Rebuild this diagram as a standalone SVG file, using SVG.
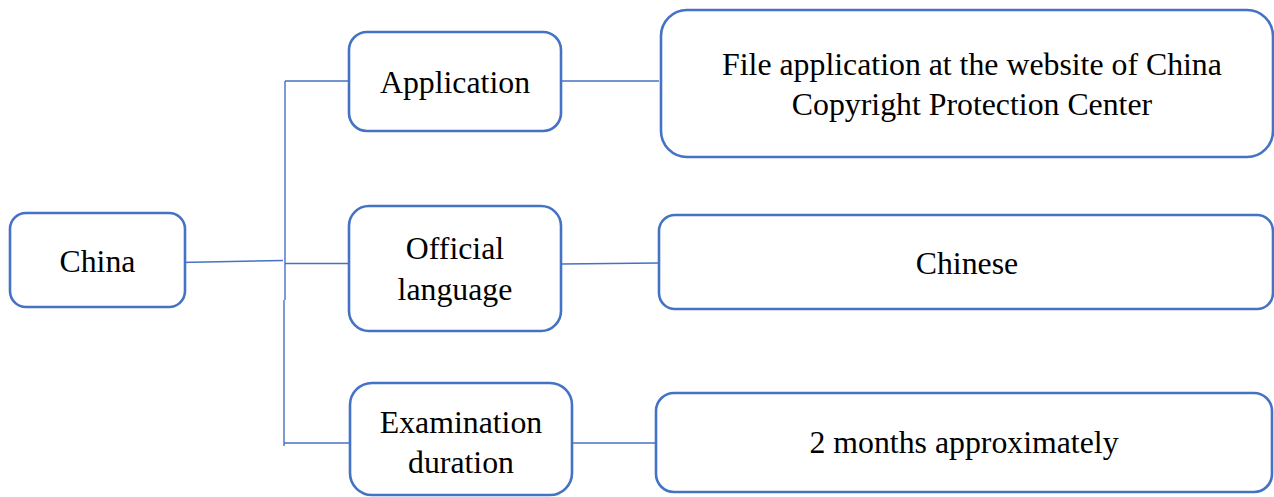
<svg xmlns="http://www.w3.org/2000/svg" width="1274" height="497" viewBox="0 0 1274 497">
  <style>
    .box { fill: #ffffff; stroke: #4472C4; stroke-width: 2.6; }
    .link { fill: none; stroke: #4472C4; stroke-width: 1.4; }
    .label { font-family: 'Liberation Serif', 'Times New Roman', serif; font-size: 31.8px; fill: #000000; text-anchor: middle; }
  </style>
  <rect x="0" y="0" width="1274" height="497" fill="#ffffff"/>

  <!-- connectors -->
  <g id="connectors">
    <path class="link" d="M180 262.5 L283 260.5"/>
    <path class="link" d="M285 81 V300"/>
    <path class="link" d="M284 300 V446"/>
    <path class="link" d="M285 81 H349"/>
    <path class="link" d="M285 263.5 H349"/>
    <path class="link" d="M284 443 H349"/>
    <path class="link" d="M561 81 H659"/>
    <path class="link" d="M561 264 L659 263"/>
    <path class="link" d="M568 443 H656"/>
  </g>

  <g id="china">
    <rect class="box" x="10" y="213" width="175" height="94" rx="16"/>
    <text class="label" x="97.5" y="272">China</text>
  </g>

  <g id="application">
    <rect class="box" x="349" y="32" width="212" height="99" rx="18"/>
    <text class="label" x="455" y="93">Application</text>
  </g>

  <g id="official-language">
    <rect class="box" x="349" y="206" width="212" height="125" rx="20"/>
    <text class="label" x="455" y="259">Official</text>
    <text class="label" x="455" y="300">language</text>
  </g>

  <g id="examination-duration">
    <rect class="box" x="350" y="383" width="222" height="112" rx="22"/>
    <text class="label" x="461" y="433">Examination</text>
    <text class="label" x="461" y="473">duration</text>
  </g>

  <g id="application-detail">
    <rect class="box" x="661" y="10" width="612" height="147" rx="26"/>
    <text class="label" x="972" y="75">File application at the website of China</text>
    <text class="label" x="972" y="115">Copyright Protection Center</text>
  </g>

  <g id="language-detail">
    <rect class="box" x="659" y="215" width="614" height="94" rx="16"/>
    <text class="label" x="967" y="274">Chinese</text>
  </g>

  <g id="duration-detail">
    <rect class="box" x="656" y="393" width="616" height="99" rx="18"/>
    <text class="label" x="964" y="453">2 months approximately</text>
  </g>
</svg>
